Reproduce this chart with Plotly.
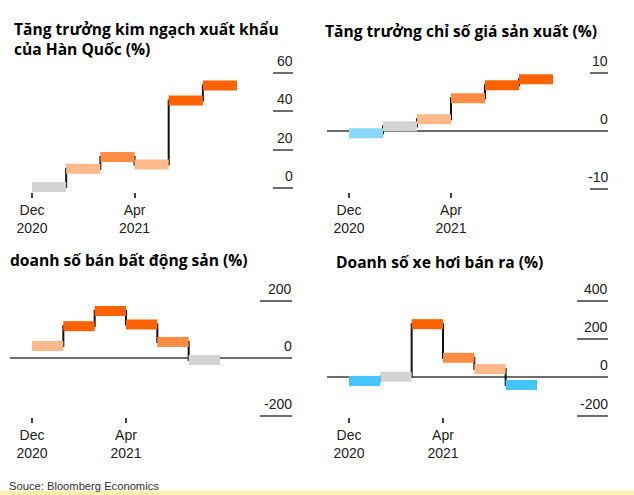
import plotly.graph_objects as go

# ---------------- data ----------------
MONTHS = ["2020-12", "2021-01", "2021-02", "2021-03", "2021-04", "2021-05"]
TICK_POS = [0, 3]
TICK_LABELS = ["Dec<br>2020", "Apr<br>2021"]

EXPORT_GROWTH = [0.7, 10.2, 16.3, 12.4, 45.7, 53.6]
PPI_GROWTH = [-0.45, 0.75, 1.96, 5.57, 7.8, 8.83]
PROPERTY_SALES = [43, 112, 165, 118, 57, -6]
CAR_SALES = [-19, 3, 278, 102, 43, -40]

EXPORT_TICKS = [0, 20, 40, 60]
PPI_TICKS = [-10, 0, 10]
PROPERTY_TICKS = [-200, 0, 200]
CAR_TICKS = [-200, 0, 200, 400]

TITLES = [
    "Tăng trưởng kim ngạch xuất khẩu<br>của Hàn Quốc (%)",
    "Tăng trưởng chỉ số giá sản xuất (%)",
    "doanh số bán bất động sản (%)",
    "Doanh số xe hơi bán ra (%)",
]
SOURCE = "Souce: Bloomberg Economics"

# ---------------- styles ----------------
GRAY = "#d3d3d3"
LIGHT = "#ffb98a"
MID = "#ff8c45"
DARK = "#ff6200"
SKY = "#8ad8ff"
BLUE = "#45c5fd"

EXPORT_COLORS = [GRAY, LIGHT, MID, LIGHT, DARK, DARK]
PPI_COLORS = [SKY, GRAY, LIGHT, MID, DARK, DARK]
PROPERTY_COLORS = [LIGHT, DARK, DARK, DARK, MID, GRAY]
CAR_COLORS = [BLUE, GRAY, DARK, MID, LIGHT, BLUE]

W, H = 634, 495
TICK_FONT = dict(family="Liberation Sans, Arial, sans-serif", size=14, color="#222")
TITLE_FONT = dict(family="Open Sans, sans-serif", size=15.6, color="#000", weight=700)
AXIS_GRAY = "#6d6d6d"


def px_x(p):
    return p / W


def px_y(p):
    return 1 - p / H


# panel geometry (pixels): x domain, y domain(top,bottom), x range, y range, tick len, zero line
PANELS = [
    dict(values=EXPORT_GROWTH, colors=EXPORT_COLORS, ticks=EXPORT_TICKS,
         xd=(10, 293), yd=(60, 192), xr=(-0.644, 7.638), yr=(-1.93, 66.82),
         glen=20, zero=False, title_xy=(12, 16)),
    dict(values=PPI_GROWTH, colors=PPI_COLORS, ticks=PPI_TICKS,
         xd=(327, 608), yd=(60, 192), xr=(-0.647, 7.618), yr=(-10.54, 12.16),
         glen=18, zero=True, title_xy=(323, 18)),
    dict(values=PROPERTY_SALES, colors=PROPERTY_COLORS, ticks=PROPERTY_TICKS,
         xd=(10, 292), yd=(290, 417), xr=(-0.702, 8.298), yr=(-204.7, 238.2),
         glen=32, zero=True, title_xy=(8, 247)),
    dict(values=CAR_SALES, colors=CAR_COLORS, ticks=CAR_TICKS,
         xd=(327, 608), yd=(290, 417), xr=(-0.702, 8.266), yr=(-207.7, 456.7),
         glen=31, zero=True, title_xy=(334, 249)),
]

fig = go.Figure()
annotations = []
layout_axes = {}

for k, p in enumerate(PANELS):
    n = k + 1
    xa = "x" if n == 1 else f"x{n}"
    ya = "y" if n == 1 else f"y{n}"
    vals = p["values"]
    idx = list(range(len(MONTHS)))

    # black step connector
    fig.add_trace(go.Scatter(
        x=idx + [len(MONTHS)], y=vals + [vals[-1]], mode="lines",
        line=dict(color="#111", width=2, shape="hv"),
        xaxis=xa, yaxis=ya, hoverinfo="skip", showlegend=False))
    # coloured monthly segments
    for i, v in enumerate(vals):
        fig.add_trace(go.Scatter(
            x=[i, i + 1], y=[v, v], mode="lines",
            line=dict(color=p["colors"][i], width=10),
            xaxis=xa, yaxis=ya, name=MONTHS[i], showlegend=False))

    layout_axes["xaxis" if n == 1 else f"xaxis{n}"] = dict(
        domain=[px_x(p["xd"][0]), px_x(p["xd"][1])], range=list(p["xr"]),
        anchor=ya, showgrid=False, zeroline=False, showline=False,
        tickvals=TICK_POS, ticktext=TICK_LABELS, ticks="outside", ticklen=5,
        tickwidth=1.5, tickcolor="#444", tickfont=TICK_FONT, fixedrange=True)
    layout_axes["yaxis" if n == 1 else f"yaxis{n}"] = dict(
        domain=[px_y(p["yd"][1]), px_y(p["yd"][0])], range=list(p["yr"]),
        anchor=xa, side="right", showgrid=False, showline=False,
        zeroline=p["zero"], zerolinecolor=AXIS_GRAY, zerolinewidth=1.5,
        tickvals=p["ticks"], ticks="inside", ticklen=p["glen"], tickwidth=2,
        tickcolor=AXIS_GRAY, showticklabels=False, fixedrange=True)

    for t in p["ticks"]:
        annotations.append(dict(
            x=1, xref=f"{xa} domain", y=t, yref=ya, text=str(t),
            xanchor="right", yanchor="bottom", xshift=2, yshift=2,
            showarrow=False, font=TICK_FONT))

    annotations.append(dict(
        x=px_x(p["title_xy"][0]), y=px_y(p["title_xy"][1]), xref="paper", yref="paper",
        text=TITLES[k], xanchor="left", yanchor="top", align="left",
        showarrow=False, font=TITLE_FONT))

annotations.append(dict(
    x=px_x(7), y=px_y(494), xref="paper", yref="paper", text=SOURCE,
    xanchor="left", yanchor="bottom", showarrow=False,
    font=dict(family="Liberation Sans, Arial, sans-serif", size=11.2, color="#333")))

fig.update_layout(
    width=W, height=H, autosize=False,
    margin=dict(l=0, r=0, t=0, b=0),
    paper_bgcolor="white", plot_bgcolor="white",
    annotations=annotations,
    shapes=[dict(type="rect", xref="paper", yref="paper", x0=0, x1=1,
                 y0=0, y1=4 / H, fillcolor="#fdf0a6", line=dict(width=0),
                 layer="below")],
    **layout_axes,
)

fig.write_html(
    "out.html", config={"displayModeBar": False},
    post_script="document.body.style.margin='0';document.body.style.overflow='hidden';",
)
